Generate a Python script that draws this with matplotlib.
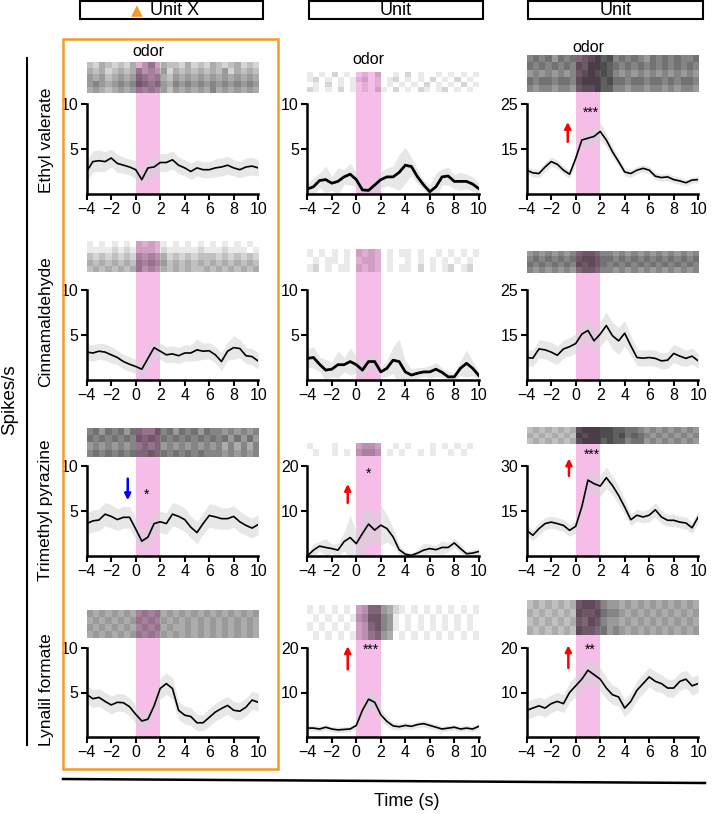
import numpy as np
import matplotlib
matplotlib.use("Agg")
import matplotlib.pyplot as plt
from matplotlib.colors import LinearSegmentedColormap
from matplotlib.patches import Rectangle
from matplotlib.lines import Line2D

plt.rcParams['font.family'] = ['Liberation Sans', 'DejaVu Sans']

# ---------------------------------------------------------------- data
TIME = np.arange(-4, 10.01, 0.5)
ODORS = ['Ethyl valerate', 'Cinnamaldehyde', 'Trimethyl pyrazine', 'Lynalil formate']
UNITS = ['Unit X', 'Unit', 'Unit']

# mean firing rate (spikes/s), one list per (odor, unit)
rate_r1c1 = [2.5, 3.6, 3.7, 3.6, 4.0, 3.4, 3.2, 3.0, 2.7, 1.6, 2.9, 3.0, 3.5, 3.5, 3.8,
             3.2, 2.9, 2.5, 2.9, 2.7, 2.7, 2.9, 3.0, 3.2, 2.9, 2.7, 3.0, 3.1, 2.9]
rate_r1c2 = [0.55, 0.8, 1.5, 1.6, 1.2, 1.4, 1.9, 2.2, 1.6, 0.45, 0.4, 1.0, 1.6, 1.9, 1.9,
             2.4, 3.2, 3.05, 1.9, 1.0, 0.25, 0.8, 1.9, 2.0, 1.4, 1.4, 1.4, 1.1, 0.6]
rate_r1c3 = [10.3, 9.7, 9.55, 11.0, 12.2, 11.6, 10.3, 9.4, 12.9, 17.0, 17.4, 17.8, 18.9, 17.0, 14.4,
             12.2, 9.9, 9.55, 10.3, 10.7, 10.3, 8.95, 8.65, 8.8, 8.2, 7.9, 7.5, 8.1, 8.2]
rate_r2c1 = [3.1, 3.0, 3.2, 3.1, 2.8, 2.5, 2.05, 1.75, 1.5, 1.2, 2.4, 3.6, 3.2, 2.8, 2.9,
             2.7, 3.0, 3.0, 3.35, 3.2, 3.25, 2.8, 2.05, 3.2, 3.6, 3.5, 2.7, 2.6, 2.1]
rate_r2c2 = [2.4, 2.5, 1.75, 1.1, 1.2, 1.7, 1.7, 2.05, 1.7, 1.1, 2.05, 2.05, 0.9, 1.3, 2.2,
             2.05, 0.9, 0.55, 0.75, 0.9, 0.9, 1.2, 0.85, 0.35, 0.35, 1.3, 1.85, 1.3, 0.5]
rate_r2c3 = [10.0, 9.85, 11.9, 11.7, 11.2, 10.5, 11.9, 12.4, 13.1, 15.2, 16.0, 13.7, 15.2, 17.1, 14.85,
             13.7, 15.4, 12.6, 10.0, 9.85, 10.0, 9.8, 9.25, 9.4, 10.9, 10.3, 9.8, 10.3, 9.25]
rate_r3c1 = [3.6, 3.9, 4.0, 4.65, 4.4, 4.05, 4.3, 4.3, 3.0, 1.65, 2.1, 3.6, 3.8, 3.6, 4.65,
             4.4, 4.05, 3.2, 2.6, 3.6, 4.5, 4.35, 4.15, 4.15, 4.4, 3.8, 3.4, 3.1, 3.5]
rate_r3c2 = [0.0, 1.3, 2.2, 1.9, 1.65, 1.3, 3.2, 4.1, 2.75, 5.0, 7.1, 5.75, 6.85, 6.1, 4.25,
             1.4, 0.4, 0.15, 0.65, 1.3, 1.65, 1.4, 1.9, 1.9, 2.9, 1.65, 0.5, 0.65, 1.0]
rate_r3c3 = [8.55, 6.9, 9.1, 10.8, 11.3, 10.8, 10.2, 8.55, 9.9, 16.4, 25.3, 24.1, 23.3, 26.1, 23.5,
             20.2, 16.3, 12.1, 13.6, 13.0, 13.6, 15.4, 13.0, 11.9, 11.9, 11.3, 11.0, 9.4, 13.0]
rate_r4c1 = [4.8, 4.3, 4.45, 4.0, 3.6, 3.9, 3.85, 3.4, 2.55, 1.8, 2.0, 3.5, 5.45, 6.0, 5.45,
             3.0, 2.45, 2.3, 1.6, 1.6, 2.2, 2.8, 3.2, 3.55, 3.0, 2.9, 3.35, 4.15, 3.9]
rate_r4c2 = [2.0, 2.0, 1.8, 2.2, 1.8, 1.6, 1.7, 1.8, 2.6, 6.0, 8.5, 7.8, 5.0, 3.5, 2.5,
             2.3, 2.6, 2.4, 2.8, 3.0, 2.6, 2.2, 1.8, 2.0, 2.2, 1.8, 2.0, 1.8, 2.4]
rate_r4c3 = [6.0, 6.5, 7.0, 6.5, 7.5, 8.0, 7.5, 10.0, 11.5, 13.0, 15.0, 14.0, 13.0, 11.0, 9.5,
             9.0, 6.5, 8.0, 10.5, 12.0, 13.5, 12.5, 12.0, 11.0, 11.0, 12.5, 13.0, 11.5, 12.0]

# s.e.m. half-width of the grey band
sem_r1c1 = [1.1, 1.2, 1.2, 1.1, 1.0, 1.0, 0.9, 0.9, 1.0, 0.9, 1.0, 1.0, 1.0, 1.0, 1.0,
            0.9, 0.9, 0.9, 0.9, 0.9, 0.9, 1.0, 1.0, 1.0, 0.9, 0.9, 1.0, 1.0, 0.9]
sem_r1c2 = [0.6, 1.0, 0.8, 1.5, 0.8, 1.5, 0.8, 1.2, 0.8, 0.5, 0.5, 0.8, 0.9, 1.0, 1.2,
            2.0, 2.0, 1.0, 0.8, 0.5, 0.8, 1.5, 0.9, 1.0, 0.8, 1.0, 0.8, 0.8, 0.6]
sem_r1c3 = [0.8, 0.9, 0.9, 1.0, 1.0, 1.0, 0.9, 0.9, 1.2, 1.5, 1.8, 2.0, 2.0, 1.5, 1.2,
            1.0, 0.9, 0.9, 0.8, 0.8, 0.8, 0.8, 0.8, 0.8, 0.8, 0.8, 0.7, 0.7, 0.7]
sem_r2c1 = [0.9, 0.9, 0.9, 0.9, 0.9, 0.8, 0.8, 0.8, 0.8, 0.8, 0.9, 1.0, 0.9, 0.9, 0.9,
            0.9, 0.9, 0.9, 1.2, 0.9, 0.9, 0.9, 1.0, 1.0, 1.3, 1.0, 0.9, 0.9, 0.9]
sem_r2c2 = [1.0, 1.2, 0.8, 1.2, 0.8, 1.5, 0.8, 1.5, 0.9, 0.8, 1.0, 0.9, 0.6, 0.9, 1.5,
            2.5, 1.2, 0.7, 0.6, 0.5, 0.7, 0.8, 0.5, 0.6, 0.5, 0.8, 1.5, 0.8, 0.5]
sem_r2c3 = [1.8, 1.8, 2.0, 2.0, 2.2, 2.0, 2.0, 2.0, 2.2, 2.5, 2.5, 2.5, 2.8, 3.0, 3.0,
            3.0, 2.8, 2.2, 1.8, 1.8, 1.8, 1.8, 1.8, 1.8, 2.0, 2.0, 1.8, 1.8, 1.6]
sem_r3c1 = [1.2, 1.2, 1.2, 1.3, 1.3, 1.2, 1.2, 1.2, 1.2, 1.1, 1.1, 1.2, 1.2, 1.2, 1.3,
            1.3, 1.3, 1.2, 1.2, 1.2, 1.3, 1.3, 1.2, 1.2, 1.2, 1.2, 1.1, 1.1, 1.1]
sem_r3c2 = [0.3, 1.5, 1.0, 2.0, 1.0, 1.5, 2.0, 5.0, 2.5, 5.0, 4.0, 3.0, 4.5, 3.0, 2.0,
            1.0, 0.5, 0.5, 0.8, 1.5, 1.0, 1.0, 1.5, 1.0, 1.0, 1.0, 0.5, 0.8, 0.8]
sem_r3c3 = [1.8, 1.8, 2.0, 2.0, 2.0, 2.0, 2.0, 2.0, 2.2, 2.8, 3.2, 3.5, 3.5, 3.5, 3.2,
            3.0, 2.6, 2.0, 2.0, 2.0, 2.2, 2.4, 2.2, 2.0, 2.0, 2.0, 2.0, 2.0, 2.0]
sem_r4c1 = [1.0, 1.0, 1.0, 1.0, 1.0, 1.0, 1.0, 1.0, 1.0, 0.9, 0.9, 1.0, 1.2, 1.2, 1.2,
            1.0, 1.0, 1.0, 0.9, 0.9, 1.0, 1.0, 1.0, 1.0, 1.0, 1.0, 1.0, 1.0, 1.0]
sem_r4c2 = [0.6, 0.6, 0.6, 0.6, 0.6, 0.6, 0.6, 0.6, 0.8, 1.5, 2.0, 2.0, 1.5, 1.0, 0.8,
            0.7, 0.7, 0.7, 0.7, 0.7, 0.7, 0.6, 0.6, 0.6, 0.6, 0.6, 0.6, 0.6, 0.6]
sem_r4c3 = [2.0, 2.0, 2.0, 2.0, 2.0, 2.0, 2.0, 2.2, 2.4, 2.6, 2.8, 2.8, 2.6, 2.4, 2.2,
            2.0, 2.0, 2.0, 2.2, 2.2, 2.2, 2.2, 2.0, 2.0, 2.0, 2.0, 2.0, 2.0, 2.0]

# raster tick density per 0.5 s bin (0 = empty, 9 = solid), rows = trial groups
raster_r1c1 = ["3243232413524332423243234232", "4342343453435243434343524343",
               "5453454565454354545454545454", "5654565676565465656565656565",
               "4543454554545354545464545454"]
raster_r1c2 = ["1010201001020010201001010101", "1201010112010120101020102010",
               "0102010101010101010201010201", "2101020101021020102101201010"]
raster_r1c3 = ["6767576767898967676576767667", "7676767687999876767676767676",
               "5656565678989865656565656565", "7677677689998977677677676776",
               "6566566578898866566566565665"]
raster_r2c1 = ["1010101021211010101010101010", "1111212122212111112111211101",
               "3232323243434232323332323232", "4343434354545343434343434343",
               "3434343453434343433434343434"]
raster_r2c2 = ["1010101021210101101001010101", "0101101012210100101010101010",
               "1201011021210101102010120120"]
raster_r2c3 = ["5656565667766656565656565656", "6767676778877767676767676767",
               "7676767687877676767676767676", "6565656567766656565656565656"]
raster_r3c1 = ["6757675765576757675766565656", "7676767676767676767676757575",
               "5656565656565656565656464646", "6767676766767676767666565656"]
raster_r3c2 = ["1000100023320010100010101010", "0100101034430101001010010100"]
raster_r3c3 = ["3434343489999988776565656565", "4343434398999989787656565656",
               "3434343489998988677565656565"]
raster_r4c1 = ["5454545445454545454545454545", "4545454554545454545454545454",
               "5454545445454544545454545454", "4545454554545454545454545454"]
raster_r4c2 = ["1010101023665421010101010101", "0101010134776510101010101010",
               "1010101023676510101010101010", "0101010123565401010101010101"]
raster_r4c3 = ["3434343478876554545454545454", "4343434387787665454545454545",
               "3434343476876554545454545454", "4343434387767565454545454545"]

RATES = [[rate_r1c1, rate_r1c2, rate_r1c3], [rate_r2c1, rate_r2c2, rate_r2c3],
         [rate_r3c1, rate_r3c2, rate_r3c3], [rate_r4c1, rate_r4c2, rate_r4c3]]
SEMS = [[sem_r1c1, sem_r1c2, sem_r1c3], [sem_r2c1, sem_r2c2, sem_r2c3],
        [sem_r3c1, sem_r3c2, sem_r3c3], [sem_r4c1, sem_r4c2, sem_r4c3]]
RASTERS = [[raster_r1c1, raster_r1c2, raster_r1c3], [raster_r2c1, raster_r2c2, raster_r2c3],
           [raster_r3c1, raster_r3c2, raster_r3c3], [raster_r4c1, raster_r4c2, raster_r4c3]]

# y range and ticks of each panel
Y_RANGE = [[(0, 10), (0, 10), (5, 25)], [(0, 10), (0, 10), (5, 25)],
           [(0, 10), (0, 20), (0, 30)], [(0, 10), (0, 20), (0, 20)]]
Y_TICKS = [[[5, 10], [5, 10], [15, 25]], [[5, 10], [5, 10], [15, 25]],
           [[5, 10], [10, 20], [15, 30]], [[5, 10], [10, 20], [10, 20]]]

# significance markers: (row, col, x, tail, head, colour) and (row, col, x, y, text)
ARROWS = [(0, 2, -0.65, 16.6, 21.0, 'red'), (2, 0, -0.65, 8.6, 6.2, 'blue'),
          (2, 1, -0.7, 11.8, 16.0, 'red'), (2, 2, -0.55, 26.7, 32.5, 'red'),
          (3, 1, -0.7, 15.2, 20.4, 'red'), (3, 2, -0.6, 15.5, 20.6, 'red')]
STARS = [(0, 2, 1.2, 23.0, '***'), (2, 0, 0.9, 6.8, '*'), (2, 1, 1.0, 18.2, '*'),
         (2, 2, 1.3, 33.8, '***'), (3, 1, 1.2, 19.5, '***'), (3, 2, 1.2, 19.5, '**')]

# ---------------------------------------------------------------- layout (pixels)
W, H = 714, 814
COL_X = [86.7, 307.3, 526.7]
COL_W = 171.5
ROW_Y = [(104, 194), (290, 380), (466, 556), (648, 737)]      # spine top, x-axis
RASTER_PX = [[(62, 93), (72, 92), (55, 92)],
             [(241, 272), (249, 272), (251, 273)],
             [(428, 457), (443, 456), (427, 444)],
             [(610, 638), (605, 640), (600, 635)]]
ODOR_Y = [52, 60, 47]
PINK = '#f7bde9'
ORANGE = '#f29b26'
raster_cmap = LinearSegmentedColormap.from_list('raster', [(0, 0, 0, 0), (0.1, 0.1, 0.1, 1)])


def fig_rect(x0, y0, x1, y1):
    return [x0 / W, 1 - y1 / H, (x1 - x0) / W, (y1 - y0) / H]


fig = plt.figure(figsize=(W / 100, H / 100), dpi=100)
axes = {}

for r in range(4):
    for c in range(3):
        left = COL_X[c]
        spine_top, bottom = ROW_Y[r]
        rt, rb = RASTER_PX[r][c]
        ymin, ymax = Y_RANGE[r][c]
        per_px = (ymax - ymin) / (bottom - spine_top)
        ytop = ymin + (bottom - rt) * per_px
        yrb = ymin + (bottom - rb) * per_px

        ax = fig.add_axes(fig_rect(left, rt, left + COL_W, bottom))
        ax.patch.set_alpha(0)
        m = np.array(RATES[r][c])
        s = np.array(SEMS[r][c])
        ax.axvspan(0, 2, color=PINK, lw=0, zorder=0)
        ax.fill_between(TIME, m - s, m + s, color='#d4d4d4', alpha=0.55, lw=0, zorder=1)
        ax.plot(TIME, m, color='black', lw=2.0 if (c == 1 and r < 2) else 1.2, zorder=3)

        grid = np.array([[int(ch) for ch in row] for row in RASTERS[r][c]])
        ax.imshow(grid, extent=(-4, 10, yrb, ytop), aspect='auto', cmap=raster_cmap,
                  vmin=0, vmax=12, interpolation='nearest', zorder=2)

        ax.set_xlim(-4, 10)
        ax.set_ylim(ymin, ytop)
        for side in ('top', 'right'):
            ax.spines[side].set_visible(False)
        ax.spines['left'].set_bounds(ymin, ymax)
        for side in ('left', 'bottom'):
            ax.spines[side].set_linewidth(1.8)
        ax.set_xticks(range(-4, 11, 2))
        ax.set_yticks(Y_TICKS[r][c])
        ax.tick_params(length=4, width=1.5, labelsize=11.5, pad=2)
        axes[(r, c)] = ax

for r, c, x, y0, y1, col in ARROWS:
    axes[(r, c)].annotate('', xy=(x, y1), xytext=(x, y0),
                          arrowprops=dict(arrowstyle='-|>', color=col, lw=1.8,
                                          mutation_scale=9, shrinkA=0, shrinkB=0))
for r, c, x, y, txt in STARS:
    axes[(r, c)].text(x, y, txt, ha='center', va='center', fontsize=10)

# ---------------------------------------------------------------- decorations
ov = fig.add_axes([0, 0, 1, 1])
ov.set_xlim(0, W)
ov.set_ylim(H, 0)
ov.axis('off')
ov.patch.set_alpha(0)

boxes = [(80, 263), (309, 483), (528, 703)]
for (x0, x1), name in zip(boxes, UNITS):
    ov.add_patch(Rectangle((x0, 1), x1 - x0, 18, fill=False, ec='black', lw=1.5))
    ov.text((x0 + x1) / 2 + (3 if name == 'Unit X' else 0), 10.5, name,
            ha='center', va='center', fontsize=13)
ov.text(137, 10.5, '\u25b2', color=ORANGE, ha='center', va='center', fontsize=11,
        family=['DejaVu Sans'])

for c in range(3):
    ov.text(COL_X[c] + COL_W * 5 / 14, ODOR_Y[c], 'odor', ha='center', va='center',
            fontsize=11.5)

ov.add_patch(Rectangle((63, 39), 215, 730, fill=False, ec=ORANGE, lw=1.8))

ov.add_line(Line2D([27, 27], [58, 745], color='black', lw=1.5))
ov.text(10, 400, 'Spikes/s', rotation=90, ha='center', va='center', fontsize=13.5)
row_label_y = [140, 322, 510, 690]
for name, y in zip(ODORS, row_label_y):
    ov.text(46, y, name, rotation=90, ha='center', va='center', fontsize=12.5)

ov.add_line(Line2D([63, 705], [779, 783], color='black', lw=1.8))
ov.text(407, 802, 'Time (s)', ha='center', va='center', fontsize=13)

fig.savefig('out.png', dpi=100)
